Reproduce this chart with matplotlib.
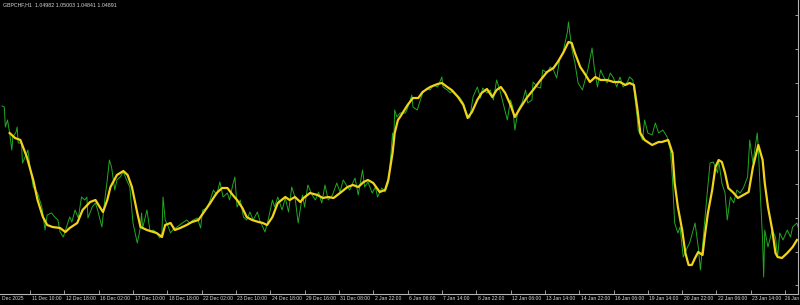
import matplotlib
matplotlib.use("Agg")
import matplotlib.pyplot as plt
import matplotlib.transforms as mtransforms

# GBPCHF H1 line chart: close (green) and smoothed line (yellow)
# x values are hour bars since the first bar on screen

green_hour = [
    2, 4, 5, 7, 9, 11, 12, 15, 16, 17,
    20, 21, 25, 26, 28, 31, 35, 39, 42, 44,
    48, 51, 54, 56, 59, 62, 65, 67, 70, 73,
    76, 79, 81, 82, 86, 89, 91, 95, 98, 100,
    102, 104, 107, 109, 112, 115, 118, 121, 124, 126,
    128, 131, 132, 133, 137, 140, 143, 146, 149, 151,
    152, 154, 157, 159, 161, 165, 170, 174, 177, 180,
    184, 187, 189, 193, 196, 199, 202, 205, 208, 212,
    214, 217, 219, 221, 224, 227, 230, 233, 236, 240,
    242, 245, 247, 250, 254, 256, 259, 263, 266, 269,
    272, 275, 278, 282, 284, 287, 291, 294, 297, 300,
    303, 306, 310, 314, 317, 320, 324, 326, 331, 334,
    338, 340, 343, 347, 350, 352, 356, 359, 362, 364,
    366, 367, 368, 370, 373, 378, 380, 384, 385, 389,
    392, 394, 398, 401, 404, 408, 410, 412, 413, 417,
    420, 422, 426, 429, 432, 435, 438, 441, 445, 448,
    450, 454, 457, 460, 463, 466, 469, 473, 476, 478,
    480, 483, 487, 490, 492, 496, 497, 501, 504, 506,
    510, 513, 516, 519, 522, 525, 529, 530, 533, 536,
    539, 543, 546, 548, 552, 554, 557, 560, 562, 566,
    569, 572, 575, 578, 581, 585, 587, 590, 594, 595,
    599, 601, 604, 608, 611, 614, 618, 622, 625, 627,
    629, 632, 634, 637, 641, 643, 648, 651, 653, 656,
    659, 662, 665, 669, 670, 673, 676, 678, 681, 684,
    687, 690, 693, 697, 699, 702, 706, 707, 709, 711,
    712, 713, 716, 720, 723, 725, 727, 730, 734, 737,
    739, 743, 745,
]
green_close = [
    1.0613, 1.0612, 1.0592, 1.0599, 1.0586, 1.0569, 1.0582, 1.0587, 1.0592, 1.0576,
    1.0576, 1.0556, 1.0566, 1.0569, 1.0552, 1.0532, 1.0526, 1.0512, 1.0489, 1.0504,
    1.0506, 1.0502, 1.0499, 1.0487, 1.0482, 1.0492, 1.0502, 1.0497, 1.0509, 1.0501,
    1.0522, 1.0519, 1.0522, 1.0501, 1.0512, 1.0516, 1.0509, 1.0492, 1.0522, 1.0539,
    1.0559, 1.0552, 1.0529, 1.0539, 1.0542, 1.0547, 1.0539, 1.0532, 1.0496, 1.0486,
    1.0476, 1.0492, 1.0506, 1.0491, 1.0509, 1.0487, 1.0489, 1.0486, 1.0481, 1.0486,
    1.0522, 1.0499, 1.0492, 1.0486, 1.0489, 1.0492, 1.0496, 1.0499, 1.0496, 1.0499,
    1.0501, 1.0491, 1.0509, 1.0511, 1.0519, 1.0529, 1.0524, 1.0537, 1.0522, 1.0526,
    1.0519, 1.0534, 1.0542, 1.0512, 1.0519, 1.0502, 1.0499, 1.0507, 1.0499, 1.0507,
    1.0499, 1.0492, 1.0487, 1.0499, 1.0519, 1.0512, 1.0522, 1.0509, 1.0521, 1.0507,
    1.0532, 1.0522, 1.0496, 1.0524, 1.0512, 1.0534, 1.0524, 1.0519, 1.0527, 1.0516,
    1.0534, 1.0519, 1.0524, 1.0536, 1.0527, 1.0539, 1.0532, 1.0529, 1.0541, 1.0524,
    1.0549, 1.0532, 1.0537, 1.0526, 1.0532, 1.0522, 1.0531, 1.0527, 1.0536, 1.0559,
    1.0586, 1.0574, 1.0609, 1.0602, 1.0606, 1.0606, 1.0611, 1.0624, 1.0612, 1.0609,
    1.0619, 1.0626, 1.0631, 1.0629, 1.0634, 1.0632, 1.0637, 1.0642, 1.0632, 1.0629,
    1.0626, 1.0629, 1.0624, 1.0621, 1.0616, 1.0606, 1.0601, 1.0622, 1.0632, 1.0621,
    1.0631, 1.0626, 1.0629, 1.0619, 1.0639, 1.0629, 1.0616, 1.0599, 1.0619, 1.0612,
    1.0589, 1.0609, 1.0617, 1.0629, 1.0616, 1.0619, 1.0637, 1.0632, 1.0631, 1.0649,
    1.0646, 1.0652, 1.0649, 1.0641, 1.0661, 1.0667, 1.0687, 1.0697, 1.0671, 1.0656,
    1.0636, 1.0629, 1.0641, 1.0649, 1.0671, 1.0652, 1.0632, 1.0649, 1.0644, 1.0636,
    1.0646, 1.0641, 1.0632, 1.0642, 1.0632, 1.0637, 1.0642, 1.0639, 1.0602, 1.0589,
    1.0579, 1.0599, 1.0586, 1.0584, 1.0596, 1.0586, 1.0589, 1.0582, 1.0569, 1.0539,
    1.0496, 1.0486, 1.0492, 1.0462, 1.0472, 1.0476, 1.0496, 1.0472, 1.0449, 1.0486,
    1.0522, 1.0556, 1.0557, 1.0546, 1.0559, 1.0536, 1.0526, 1.0499, 1.0522, 1.0516,
    1.0529, 1.0526, 1.0531, 1.0542, 1.0579, 1.0556, 1.0586, 1.0572, 1.0522, 1.0479,
    1.0442, 1.0489, 1.0472, 1.0489, 1.0482, 1.0462, 1.0486, 1.0479, 1.0489, 1.0482,
    1.0492, 1.0496, 1.0489,
]

yellow_hour = [
    9, 14, 19, 25, 31, 35, 40, 44, 49, 56,
    61, 65, 72, 77, 84, 89, 93, 96, 100, 103,
    109, 115, 119, 123, 128, 131, 137, 146, 151, 154,
    159, 163, 168, 174, 179, 185, 196, 202, 207, 212,
    217, 221, 226, 230, 235, 241, 245, 249, 254, 259,
    266, 270, 275, 280, 283, 289, 296, 301, 306, 311,
    317, 324, 329, 334, 339, 343, 348, 354, 359, 362,
    366, 368, 371, 373, 380, 385, 390, 394, 401, 408,
    412, 417, 421, 427, 432, 436, 440, 445, 449, 454,
    459, 463, 467, 471, 476, 480, 485, 491, 497, 504,
    510, 516, 520, 525, 530, 533, 536, 541, 546, 550,
    555, 560, 566, 572, 578, 583, 587, 591, 594, 597,
    601, 608, 614, 617, 623, 627, 629, 632, 636, 639,
    642, 645, 648, 651, 655, 657, 660, 664, 667, 670,
    673, 676, 679, 684, 688, 693, 698, 702, 707, 711,
    713, 716, 720, 723, 725, 729, 734, 739, 743,
]
yellow_line = [
    1.0586, 1.0581, 1.0579, 1.0562, 1.0539, 1.0519, 1.0502, 1.0494, 1.0492, 1.0491,
    1.0487, 1.0491, 1.0496, 1.0509, 1.0517, 1.0519, 1.0512, 1.0507, 1.0519, 1.0532,
    1.0544, 1.0548, 1.0544, 1.0532, 1.0506, 1.0492, 1.0489, 1.0486, 1.0482, 1.0494,
    1.0496, 1.0489, 1.0491, 1.0494, 1.0497, 1.0499, 1.0516, 1.0526, 1.0531, 1.0531,
    1.0524, 1.0519, 1.0511, 1.0502, 1.0499, 1.0497, 1.0496, 1.0494, 1.0502, 1.0516,
    1.0522, 1.0519, 1.0522, 1.0517, 1.0521, 1.0526, 1.0524, 1.0521, 1.0522, 1.0521,
    1.0526, 1.0532, 1.0534, 1.0532, 1.0537, 1.0539, 1.0536, 1.0527, 1.0529, 1.0539,
    1.0566, 1.0586, 1.0599, 1.0602, 1.0614, 1.0621, 1.0621, 1.0627, 1.0632, 1.0635,
    1.0636, 1.0632, 1.0629, 1.0622, 1.0614, 1.0601, 1.0607, 1.0619, 1.0626, 1.0630,
    1.0622, 1.0629, 1.0632, 1.0626, 1.0614, 1.0602, 1.0611, 1.0621, 1.0629, 1.0639,
    1.0647, 1.0651, 1.0657, 1.0666, 1.0677, 1.0676, 1.0666, 1.0652, 1.0644, 1.0637,
    1.0642, 1.0639, 1.0639, 1.0637, 1.0637, 1.0634, 1.0636, 1.0634, 1.0612, 1.0586,
    1.0579, 1.0574, 1.0577, 1.0577, 1.0579, 1.0566, 1.0536, 1.0512, 1.0489, 1.0466,
    1.0454, 1.0454, 1.0461, 1.0467, 1.0464, 1.0482, 1.0506, 1.0529, 1.0552, 1.0559,
    1.0557, 1.0546, 1.0531, 1.0526, 1.0521, 1.0524, 1.0527, 1.0552, 1.0574, 1.0559,
    1.0536, 1.0512, 1.0489, 1.0466, 1.0462, 1.0461, 1.0466, 1.0472, 1.0479,
]

# time axis labels, one every 32 bars
tick_hour = [28 + 32 * k for k in range(23)]
tick_labels = [
    "11 Dec 10:00", "12 Dec 18:00", "16 Dec 02:00", "17 Dec 10:00", "18 Dec 18:00",
    "22 Dec 02:00", "23 Dec 10:00", "24 Dec 18:00", "29 Dec 16:00", "31 Dec 08:00",
    "2 Jan 22:00", "6 Jan 06:00", "7 Jan 14:00", "8 Jan 22:00", "12 Jan 06:00",
    "13 Jan 14:00", "14 Jan 22:00", "16 Jan 06:00", "19 Jan 14:00", "20 Jan 22:00",
    "22 Jan 06:00", "23 Jan 14:00", "26 Jan",
]
title = "GBPCHF,H1  1.04982 1.05003 1.04841 1.04891"

txt_color = "#d8d8d8"
axis_color = "#b4b4b4"
font = "Liberation Sans"

fig = plt.figure(figsize=(8, 3.05), dpi=100, facecolor="black")
ax = fig.add_axes([0, 11 / 305, 798 / 800, 294 / 305])
ax.set_facecolor("black")

ax.plot(green_hour, green_close, color="#22a822", lw=0.7, zorder=2)
ax.plot(yellow_hour, yellow_line, color="#f2d31b", lw=1.6, zorder=3)

ax.set_xlim(0, 744)
ax.set_ylim(1.0425, 1.0719)

for side in ["top", "left"]:
    ax.spines[side].set_visible(False)
for side in ["bottom", "right"]:
    ax.spines[side].set_color(axis_color)
    ax.spines[side].set_linewidth(0.8)

ax.set_xticks(tick_hour)
ax.set_xticklabels(tick_labels, fontsize=3.6, color=txt_color, family=font, ha="left")
ax.tick_params(axis="x", direction="in", length=3, width=0.6, color=axis_color, pad=1.5)
labels = ax.get_xticklabels()
for i, lab in enumerate(labels):
    dx = 1.5 if i < len(labels) - 1 else -0.5
    shift = mtransforms.ScaledTranslation(dx / 100, 0, fig.dpi_scale_trans)
    lab.set_transform(lab.get_transform() + shift)
labels[-1].set_fontsize(3.3)

ax.yaxis.tick_right()
ax.set_yticks([1.0704 - 0.00338 * k for k in range(9)])
ax.set_yticklabels([])
ax.tick_params(axis="y", direction="in", length=2.5, width=0.6, color=axis_color)

fig.text(2 / 800, 1 - 299 / 305, "Dec 2025", fontsize=3.6, color=txt_color,
         family=font, va="center", ha="left")
fig.text(3 / 800, 1 - 5 / 305, title, fontsize=3.8, color=txt_color,
         family=font, va="center", ha="left")

fig.savefig("out.png", dpi=100, facecolor="black")
